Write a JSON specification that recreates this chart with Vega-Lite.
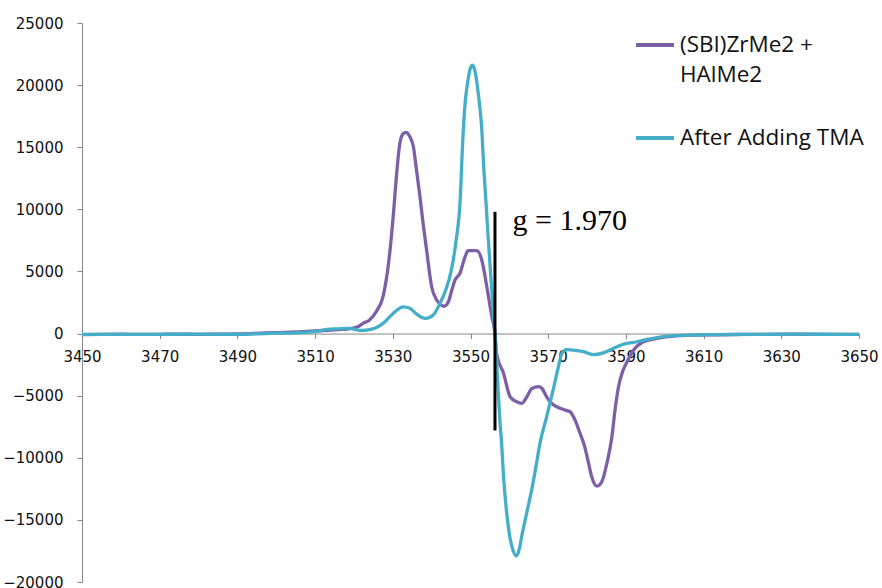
{
  "$schema": "https://vega.github.io/schema/vega-lite/v6.json",
  "width": 777,
  "height": 559,
  "autosize": {"type": "none"},
  "padding": {"left": 82, "top": 23, "right": 23, "bottom": 6},
  "background": "white",
  "config": {
    "view": {"stroke": null},
    "style": {"guide-label": {"lineHeight": 30}}
  },
  "layer": [
    {
      "data": {
        "values": [
          {"field": 3450, "intensity": -80, "series": "(SBI)ZrMe2 + HAlMe2"},
          {"field": 3455, "intensity": -60, "series": "(SBI)ZrMe2 + HAlMe2"},
          {"field": 3460, "intensity": -50, "series": "(SBI)ZrMe2 + HAlMe2"},
          {"field": 3465, "intensity": -70, "series": "(SBI)ZrMe2 + HAlMe2"},
          {"field": 3470, "intensity": -60, "series": "(SBI)ZrMe2 + HAlMe2"},
          {"field": 3475, "intensity": -50, "series": "(SBI)ZrMe2 + HAlMe2"},
          {"field": 3480, "intensity": -60, "series": "(SBI)ZrMe2 + HAlMe2"},
          {"field": 3485, "intensity": -50, "series": "(SBI)ZrMe2 + HAlMe2"},
          {"field": 3490, "intensity": -30, "series": "(SBI)ZrMe2 + HAlMe2"},
          {"field": 3495, "intensity": 20, "series": "(SBI)ZrMe2 + HAlMe2"},
          {"field": 3500, "intensity": 80, "series": "(SBI)ZrMe2 + HAlMe2"},
          {"field": 3505, "intensity": 130, "series": "(SBI)ZrMe2 + HAlMe2"},
          {"field": 3510, "intensity": 210, "series": "(SBI)ZrMe2 + HAlMe2"},
          {"field": 3514, "intensity": 280, "series": "(SBI)ZrMe2 + HAlMe2"},
          {"field": 3517, "intensity": 330, "series": "(SBI)ZrMe2 + HAlMe2"},
          {"field": 3519, "intensity": 400, "series": "(SBI)ZrMe2 + HAlMe2"},
          {"field": 3521, "intensity": 550, "series": "(SBI)ZrMe2 + HAlMe2"},
          {"field": 3522.5, "intensity": 850, "series": "(SBI)ZrMe2 + HAlMe2"},
          {"field": 3524, "intensity": 1100, "series": "(SBI)ZrMe2 + HAlMe2"},
          {"field": 3525.8, "intensity": 1800, "series": "(SBI)ZrMe2 + HAlMe2"},
          {"field": 3527.5, "intensity": 3000, "series": "(SBI)ZrMe2 + HAlMe2"},
          {"field": 3528.8, "intensity": 5400, "series": "(SBI)ZrMe2 + HAlMe2"},
          {"field": 3530.1, "intensity": 9400, "series": "(SBI)ZrMe2 + HAlMe2"},
          {"field": 3531, "intensity": 12900, "series": "(SBI)ZrMe2 + HAlMe2"},
          {"field": 3531.8, "intensity": 15300, "series": "(SBI)ZrMe2 + HAlMe2"},
          {"field": 3532.7, "intensity": 16100, "series": "(SBI)ZrMe2 + HAlMe2"},
          {"field": 3533.4, "intensity": 16200, "series": "(SBI)ZrMe2 + HAlMe2"},
          {"field": 3534.4, "intensity": 15840, "series": "(SBI)ZrMe2 + HAlMe2"},
          {"field": 3535.3, "intensity": 15040, "series": "(SBI)ZrMe2 + HAlMe2"},
          {"field": 3536.1, "intensity": 13160, "series": "(SBI)ZrMe2 + HAlMe2"},
          {"field": 3537, "intensity": 11000, "series": "(SBI)ZrMe2 + HAlMe2"},
          {"field": 3537.8, "intensity": 8870, "series": "(SBI)ZrMe2 + HAlMe2"},
          {"field": 3538.7, "intensity": 6720, "series": "(SBI)ZrMe2 + HAlMe2"},
          {"field": 3540, "intensity": 3770, "series": "(SBI)ZrMe2 + HAlMe2"},
          {"field": 3541.3, "intensity": 2700, "series": "(SBI)ZrMe2 + HAlMe2"},
          {"field": 3543.2, "intensity": 2200, "series": "(SBI)ZrMe2 + HAlMe2"},
          {"field": 3544.3, "intensity": 2560, "series": "(SBI)ZrMe2 + HAlMe2"},
          {"field": 3545.2, "intensity": 3500, "series": "(SBI)ZrMe2 + HAlMe2"},
          {"field": 3546, "intensity": 4300, "series": "(SBI)ZrMe2 + HAlMe2"},
          {"field": 3547.3, "intensity": 4870, "series": "(SBI)ZrMe2 + HAlMe2"},
          {"field": 3548.6, "intensity": 6180, "series": "(SBI)ZrMe2 + HAlMe2"},
          {"field": 3549.4, "intensity": 6670, "series": "(SBI)ZrMe2 + HAlMe2"},
          {"field": 3551.6, "intensity": 6670, "series": "(SBI)ZrMe2 + HAlMe2"},
          {"field": 3552.9, "intensity": 5920, "series": "(SBI)ZrMe2 + HAlMe2"},
          {"field": 3554.2, "intensity": 3770, "series": "(SBI)ZrMe2 + HAlMe2"},
          {"field": 3555.5, "intensity": 1350, "series": "(SBI)ZrMe2 + HAlMe2"},
          {"field": 3556.3, "intensity": 0, "series": "(SBI)ZrMe2 + HAlMe2"},
          {"field": 3556.7, "intensity": -1600, "series": "(SBI)ZrMe2 + HAlMe2"},
          {"field": 3558.5, "intensity": -3200, "series": "(SBI)ZrMe2 + HAlMe2"},
          {"field": 3560.2, "intensity": -5090, "series": "(SBI)ZrMe2 + HAlMe2"},
          {"field": 3561.9, "intensity": -5490, "series": "(SBI)ZrMe2 + HAlMe2"},
          {"field": 3563.2, "intensity": -5620, "series": "(SBI)ZrMe2 + HAlMe2"},
          {"field": 3564.5, "intensity": -5090, "series": "(SBI)ZrMe2 + HAlMe2"},
          {"field": 3565.8, "intensity": -4420, "series": "(SBI)ZrMe2 + HAlMe2"},
          {"field": 3567.5, "intensity": -4280, "series": "(SBI)ZrMe2 + HAlMe2"},
          {"field": 3568.4, "intensity": -4420, "series": "(SBI)ZrMe2 + HAlMe2"},
          {"field": 3569.6, "intensity": -5090, "series": "(SBI)ZrMe2 + HAlMe2"},
          {"field": 3570.9, "intensity": -5620, "series": "(SBI)ZrMe2 + HAlMe2"},
          {"field": 3572.2, "intensity": -5890, "series": "(SBI)ZrMe2 + HAlMe2"},
          {"field": 3574.4, "intensity": -6160, "series": "(SBI)ZrMe2 + HAlMe2"},
          {"field": 3575.6, "intensity": -6290, "series": "(SBI)ZrMe2 + HAlMe2"},
          {"field": 3576.9, "intensity": -6960, "series": "(SBI)ZrMe2 + HAlMe2"},
          {"field": 3578.2, "intensity": -8030, "series": "(SBI)ZrMe2 + HAlMe2"},
          {"field": 3579.3, "intensity": -9000, "series": "(SBI)ZrMe2 + HAlMe2"},
          {"field": 3580.3, "intensity": -10300, "series": "(SBI)ZrMe2 + HAlMe2"},
          {"field": 3581.2, "intensity": -11530, "series": "(SBI)ZrMe2 + HAlMe2"},
          {"field": 3582.5, "intensity": -12280, "series": "(SBI)ZrMe2 + HAlMe2"},
          {"field": 3583.8, "intensity": -11930, "series": "(SBI)ZrMe2 + HAlMe2"},
          {"field": 3585.1, "intensity": -10450, "series": "(SBI)ZrMe2 + HAlMe2"},
          {"field": 3586.4, "intensity": -8300, "series": "(SBI)ZrMe2 + HAlMe2"},
          {"field": 3587.2, "intensity": -6160, "series": "(SBI)ZrMe2 + HAlMe2"},
          {"field": 3588.1, "intensity": -4280, "series": "(SBI)ZrMe2 + HAlMe2"},
          {"field": 3589, "intensity": -3200, "series": "(SBI)ZrMe2 + HAlMe2"},
          {"field": 3590.3, "intensity": -2270, "series": "(SBI)ZrMe2 + HAlMe2"},
          {"field": 3592, "intensity": -1330, "series": "(SBI)ZrMe2 + HAlMe2"},
          {"field": 3594.5, "intensity": -660, "series": "(SBI)ZrMe2 + HAlMe2"},
          {"field": 3598, "intensity": -390, "series": "(SBI)ZrMe2 + HAlMe2"},
          {"field": 3602.3, "intensity": -200, "series": "(SBI)ZrMe2 + HAlMe2"},
          {"field": 3610.9, "intensity": -100, "series": "(SBI)ZrMe2 + HAlMe2"},
          {"field": 3620, "intensity": -70, "series": "(SBI)ZrMe2 + HAlMe2"},
          {"field": 3630, "intensity": -50, "series": "(SBI)ZrMe2 + HAlMe2"},
          {"field": 3640, "intensity": -60, "series": "(SBI)ZrMe2 + HAlMe2"},
          {"field": 3650, "intensity": -60, "series": "(SBI)ZrMe2 + HAlMe2"},

          {"field": 3450, "intensity": -60, "series": "After Adding TMA"},
          {"field": 3460, "intensity": -70, "series": "After Adding TMA"},
          {"field": 3470, "intensity": -60, "series": "After Adding TMA"},
          {"field": 3480, "intensity": -50, "series": "After Adding TMA"},
          {"field": 3490, "intensity": -60, "series": "After Adding TMA"},
          {"field": 3495, "intensity": -20, "series": "After Adding TMA"},
          {"field": 3500, "intensity": 30, "series": "After Adding TMA"},
          {"field": 3505, "intensity": 60, "series": "After Adding TMA"},
          {"field": 3510, "intensity": 150, "series": "After Adding TMA"},
          {"field": 3513, "intensity": 330, "series": "After Adding TMA"},
          {"field": 3516, "intensity": 380, "series": "After Adding TMA"},
          {"field": 3519, "intensity": 420, "series": "After Adding TMA"},
          {"field": 3521.5, "intensity": 250, "series": "After Adding TMA"},
          {"field": 3524, "intensity": 320, "series": "After Adding TMA"},
          {"field": 3525.5, "intensity": 450, "series": "After Adding TMA"},
          {"field": 3527.5, "intensity": 820, "series": "After Adding TMA"},
          {"field": 3530, "intensity": 1600, "series": "After Adding TMA"},
          {"field": 3532.7, "intensity": 2150, "series": "After Adding TMA"},
          {"field": 3534.4, "intensity": 2030, "series": "After Adding TMA"},
          {"field": 3536, "intensity": 1600, "series": "After Adding TMA"},
          {"field": 3537.5, "intensity": 1300, "series": "After Adding TMA"},
          {"field": 3538.5, "intensity": 1220, "series": "After Adding TMA"},
          {"field": 3540.4, "intensity": 1490, "series": "After Adding TMA"},
          {"field": 3542.1, "intensity": 2400, "series": "After Adding TMA"},
          {"field": 3543.5, "intensity": 3400, "series": "After Adding TMA"},
          {"field": 3545, "intensity": 5000, "series": "After Adding TMA"},
          {"field": 3546.3, "intensity": 7500, "series": "After Adding TMA"},
          {"field": 3547.3, "intensity": 10500, "series": "After Adding TMA"},
          {"field": 3548, "intensity": 15500, "series": "After Adding TMA"},
          {"field": 3548.6, "intensity": 18500, "series": "After Adding TMA"},
          {"field": 3549.4, "intensity": 20500, "series": "After Adding TMA"},
          {"field": 3549.9, "intensity": 21300, "series": "After Adding TMA"},
          {"field": 3550.5, "intensity": 21600, "series": "After Adding TMA"},
          {"field": 3551.1, "intensity": 21200, "series": "After Adding TMA"},
          {"field": 3551.6, "intensity": 20300, "series": "After Adding TMA"},
          {"field": 3552.3, "intensity": 18500, "series": "After Adding TMA"},
          {"field": 3552.9, "intensity": 16500, "series": "After Adding TMA"},
          {"field": 3553.3, "intensity": 14000, "series": "After Adding TMA"},
          {"field": 3554, "intensity": 10500, "series": "After Adding TMA"},
          {"field": 3554.6, "intensity": 7500, "series": "After Adding TMA"},
          {"field": 3555.2, "intensity": 4700, "series": "After Adding TMA"},
          {"field": 3555.9, "intensity": 1700, "series": "After Adding TMA"},
          {"field": 3556.5, "intensity": -1000, "series": "After Adding TMA"},
          {"field": 3557.1, "intensity": -4500, "series": "After Adding TMA"},
          {"field": 3557.6, "intensity": -7200, "series": "After Adding TMA"},
          {"field": 3558, "intensity": -8800, "series": "After Adding TMA"},
          {"field": 3558.5, "intensity": -11500, "series": "After Adding TMA"},
          {"field": 3559.3, "intensity": -14400, "series": "After Adding TMA"},
          {"field": 3560.2, "intensity": -16500, "series": "After Adding TMA"},
          {"field": 3561, "intensity": -17500, "series": "After Adding TMA"},
          {"field": 3561.9, "intensity": -17900, "series": "After Adding TMA"},
          {"field": 3562.6, "intensity": -17300, "series": "After Adding TMA"},
          {"field": 3563.2, "intensity": -16300, "series": "After Adding TMA"},
          {"field": 3564.5, "intensity": -14400, "series": "After Adding TMA"},
          {"field": 3565.8, "intensity": -12500, "series": "After Adding TMA"},
          {"field": 3566.8, "intensity": -10800, "series": "After Adding TMA"},
          {"field": 3567.9, "intensity": -8800, "series": "After Adding TMA"},
          {"field": 3569.6, "intensity": -6700, "series": "After Adding TMA"},
          {"field": 3571.3, "intensity": -4500, "series": "After Adding TMA"},
          {"field": 3572.6, "intensity": -2700, "series": "After Adding TMA"},
          {"field": 3573.5, "intensity": -1600, "series": "After Adding TMA"},
          {"field": 3574.8, "intensity": -1300, "series": "After Adding TMA"},
          {"field": 3576.5, "intensity": -1330, "series": "After Adding TMA"},
          {"field": 3579.1, "intensity": -1460, "series": "After Adding TMA"},
          {"field": 3581.6, "intensity": -1700, "series": "After Adding TMA"},
          {"field": 3584.2, "intensity": -1550, "series": "After Adding TMA"},
          {"field": 3586.8, "intensity": -1190, "series": "After Adding TMA"},
          {"field": 3589.4, "intensity": -850, "series": "After Adding TMA"},
          {"field": 3592.8, "intensity": -660, "series": "After Adding TMA"},
          {"field": 3595.4, "intensity": -470, "series": "After Adding TMA"},
          {"field": 3600.6, "intensity": -200, "series": "After Adding TMA"},
          {"field": 3606.6, "intensity": -120, "series": "After Adding TMA"},
          {"field": 3615, "intensity": -80, "series": "After Adding TMA"},
          {"field": 3625, "intensity": -60, "series": "After Adding TMA"},
          {"field": 3635, "intensity": -50, "series": "After Adding TMA"},
          {"field": 3645, "intensity": -60, "series": "After Adding TMA"},
          {"field": 3650, "intensity": -60, "series": "After Adding TMA"}
        ]
      },
      "mark": {"type": "line", "strokeWidth": 3.3, "interpolate": "monotone"},
      "encoding": {
        "x": {
          "field": "field", "type": "quantitative",
          "scale": {"domain": [3450, 3650], "nice": false, "zero": false},
          "axis": {
            "title": null, "values": [3450, 3470, 3490, 3510, 3530, 3550, 3570, 3590, 3610, 3630, 3650],
            "offset": -248.44, "grid": false, "domainColor": "#868686", "tickColor": "#868686",
            "tickSize": 5, "labelFont": "DejaVu Sans", "labelFontSize": 15, "labelColor": "#111111",
            "labelPadding": 11, "labelFlush": false, "labelOverlap": false, "format": "d"
          }
        },
        "y": {
          "field": "intensity", "type": "quantitative",
          "scale": {"domain": [-20000, 25000], "nice": false},
          "axis": {
            "title": null, "values": [-20000, -15000, -10000, -5000, 0, 5000, 10000, 15000, 20000, 25000],
            "grid": false, "domainColor": "#868686", "tickColor": "#868686", "tickSize": 5,
            "labelFont": "DejaVu Sans", "labelFontSize": 15, "labelColor": "#111111",
            "labelPadding": 14, "format": "d", "labelFlush": false, "labelOverlap": false
          }
        },
        "color": {
          "field": "series", "type": "nominal",
          "scale": {"domain": ["(SBI)ZrMe2 + HAlMe2", "After Adding TMA"], "range": ["#7D5FA6", "#44AEC8"]},
          "legend": {
            "title": null, "orient": "none", "legendX": 552, "legendY": 1, "padding": 0,
            "symbolType": "stroke", "symbolSize": 1444, "symbolStrokeWidth": 4,
            "labelFont": "Open Sans", "labelFontSize": 22.5, "labelColor": "#111111", "labelLimit": 400,
            "labelOffset": 4, "labelBaseline": "middle", "rowPadding": 30,
            "labelExpr": "datum.label == '(SBI)ZrMe2 + HAlMe2' ? ['(SBI)ZrMe2 +', 'HAlMe2'] : datum.label"
          }
        }
      }
    },
    {
      "data": {"values": [{"field": 3556.3, "top": 9800, "bottom": -7800}]},
      "mark": {"type": "rule", "color": "#000000", "strokeWidth": 3},
      "encoding": {
        "x": {"field": "field", "type": "quantitative"},
        "y": {"field": "top", "type": "quantitative"},
        "y2": {"field": "bottom"}
      }
    },
    {
      "data": {"values": [{"field": 3560.8, "intensity": 8330, "label": "g = 1.970"}]},
      "mark": {"type": "text", "align": "left", "baseline": "alphabetic", "font": "Liberation Serif", "fontSize": 30, "color": "#000000"},
      "encoding": {
        "x": {"field": "field", "type": "quantitative"},
        "y": {"field": "intensity", "type": "quantitative"},
        "text": {"field": "label"}
      }
    }
  ]
}
